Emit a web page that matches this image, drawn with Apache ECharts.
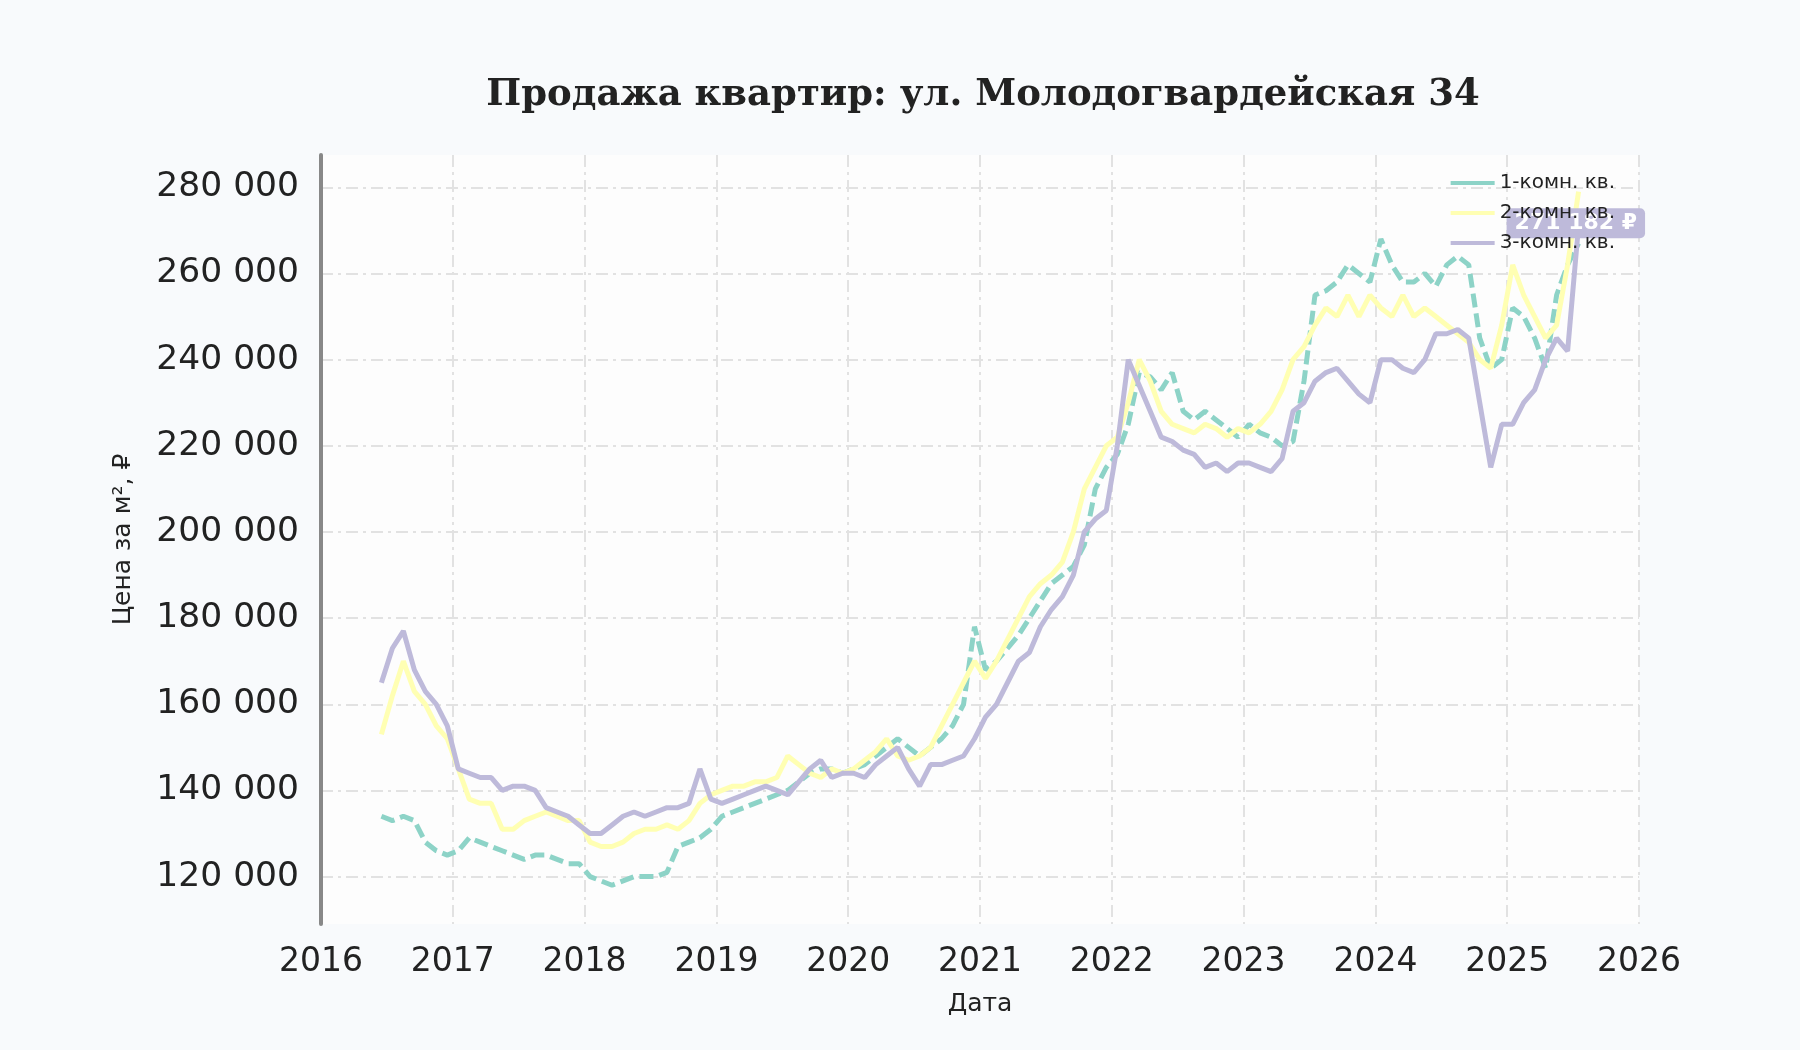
<!DOCTYPE html>
<html><head><meta charset="utf-8">
<script src="https://cdn.jsdelivr.net/npm/echarts@6/dist/echarts.min.js"></script>
<style>html,body{margin:0;background:#f8fafc}#c{width:1800px;height:1050px}</style>
</head><body><div id="c"></div>
<script>
const startYear = 2016, startMonth = 6; // June 2016, monthly points
const names = ['1-комн. кв.', '2-комн. кв.', '3-комн. кв.'];
const room1 = [134,133,134,133,128,126,125,
 126,129,128,127,126,125,124,125,125,124,123,123,
 120,119,118,119,120,120,120,121,127,128,129,131,
 134,135,136,137,138,139,140,142,144,145,145,144,
 145,146,148,150,152,150,148,150,152,155,160,178,
 168,170,173,176,180,184,188,190,192,197,210,215,
 218,225,237,236,233,237,228,226,228,226,224,222,
 225,223,222,220,221,235,255,256,258,262,260,258,
 268,262,258,258,260,257,262,264,262,245,238,240,
 252,250,245,238,255,262,267];
const room2 = [153,162,170,163,160,155,152,
 145,138,137,137,131,131,133,134,135,134,133,133,
 128,127,127,128,130,131,131,132,131,133,137,139,
 140,141,141,142,142,143,148,146,144,143,145,144,
 145,147,149,152,148,147,148,150,155,160,165,170,
 166,170,175,180,185,188,190,193,200,210,215,220,
 222,230,240,235,228,225,224,223,225,224,222,224,
 223,225,228,233,240,243,248,252,250,255,250,255,
 252,250,255,250,252,250,248,246,244,240,238,248,
 262,255,250,245,248,262,279];
const room3 = [165,173,177,168,163,160,155,
 145,144,143,143,140,141,141,140,136,135,134,132,
 130,130,132,134,135,134,135,136,136,137,145,138,
 137,138,139,140,141,140,139,142,145,147,143,144,
 144,143,146,148,150,145,141,146,146,147,148,152,
 157,160,165,170,172,178,182,185,190,200,203,205,
 220,240,234,228,222,221,219,218,215,216,214,216,
 216,215,214,217,228,230,235,237,238,235,232,230,
 240,240,238,237,240,246,246,247,245,230,215,225,
 225,230,233,240,245,242,271.182];
const yTicks = [120000,140000,160000,180000,200000,220000,240000,260000,280000];
const colors = ['#8dd3c7','#ffffb3','#bebada'];

function toXY(arr){
  return arr.map((v,i)=>[startYear + (startMonth-1+i+0.5)/12, v*1000]);
}
const fmt = v => Math.round(v).toString().replace(/\B(?=(\d{3})+(?!\d))/g,' ');
const grid = {type:[12,5,3,5], color:'#e2e2e2', width:2};
const chart = echarts.init(document.getElementById('c'));
chart.setOption({
  backgroundColor:'#f8fafc',
  animation:false,
  title:{text:'Продажа квартир: ул. Молодогвардейская 34', left:978, top:72, textAlign:'center',
    textStyle:{fontFamily:'DejaVu Serif', fontWeight:'bold', fontSize:37, color:'#222'}},
  legend:{orient:'vertical', right:180, top:168, itemGap:10, itemWidth:44, itemHeight:4,
    icon:'rect',
    textStyle:{fontFamily:'DejaVu Sans', fontSize:20, color:'#222'}, data:names},
  grid:{left:321, right:161, top:155, bottom:126, show:true, backgroundColor:'#fdfdfd', borderWidth:0},
  xAxis:{type:'value', min:2016, max:2026, interval:1,
    name:'Дата', nameLocation:'middle', nameGap:68, nameTextStyle:{fontFamily:'DejaVu Sans', fontSize:25, color:'#222'},
    axisLine:{show:false}, axisTick:{show:false},
    axisLabel:{fontFamily:'DejaVu Sans', fontSize:33, color:'#222', margin:22, formatter:v=>String(v)},
    splitLine:{show:true, lineStyle:grid}},
  yAxis:{type:'value', min:109000, max:287500,
    axisLabel:{fontFamily:'DejaVu Sans', fontSize:34.5, color:'#222', margin:22, formatter:fmt, customValues:yTicks},
    axisTick:{show:false, customValues:yTicks},
    axisLine:{show:true, lineStyle:{color:'#888', width:4}},
    splitLine:{show:true, lineStyle:grid},
    name:'Цена за м², ₽', nameLocation:'middle', nameGap:185, nameRotate:90,
    nameTextStyle:{fontFamily:'DejaVu Sans', fontSize:25, color:'#222'}},
  series:[
    {name:names[0], type:'line', data:toXY(room1), showSymbol:false, color:colors[0],
      lineStyle:{width:5, type:[14,6]}},
    {name:names[1], type:'line', data:toXY(room2), showSymbol:false, color:colors[1],
      lineStyle:{width:5}},
    {name:names[2], type:'line', data:toXY(room3), showSymbol:false, color:colors[2],
      lineStyle:{width:5},
      endLabel:{show:true, formatter:p=>fmt(p.value[1])+' ₽', offset:[-80,-2],
        backgroundColor:'#bebada', color:'#fff', fontWeight:'bold', fontSize:22, fontFamily:'DejaVu Sans',
        padding:[4,8], borderRadius:5}}
  ]
});
</script></body></html>
